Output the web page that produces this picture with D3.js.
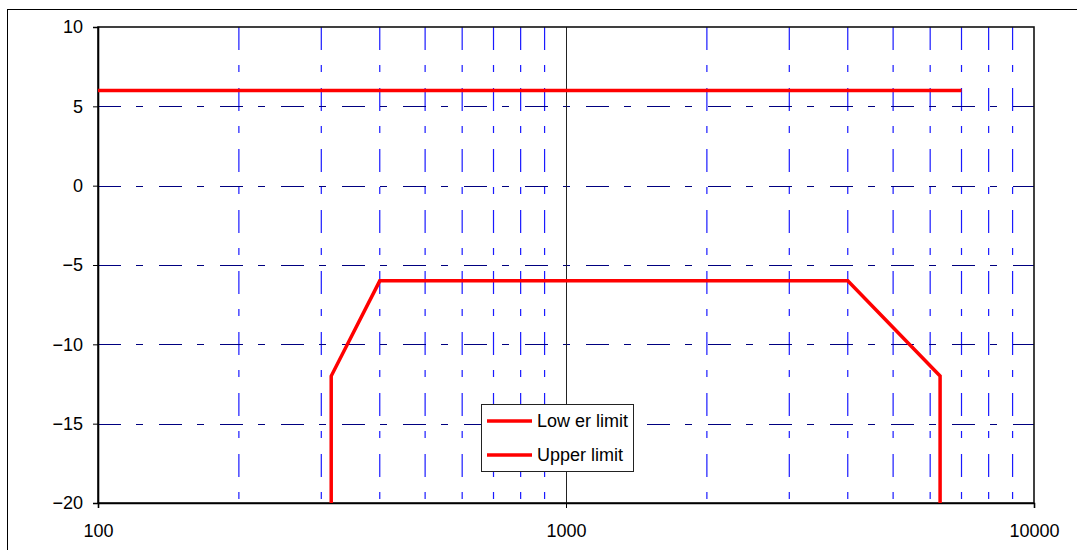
<!DOCTYPE html>
<html>
<head>
<meta charset="utf-8">
<script src="https://cdn.jsdelivr.net/npm/d3@7"></script>
<style>
  html, body { margin: 0; padding: 0; background: #fff; }
  svg { display: block; }
  text { font-family: "Liberation Sans", Arial, sans-serif; }
</style>
</head>
<body>
<svg id="chart" width="1077" height="550"></svg>
<script>
// ---- data ----
const upperX = [100, 7000];
const upperY = [6, 6];
const lowerX = [315, 315, 400, 4000, 6300, 6300];
const lowerY = [-20, -12, -6, -6, -12, -20];
const xTicks = [100, 1000, 10000];
const xMinorGrid = [200, 300, 400, 500, 600, 700, 800, 900, 2000, 3000, 4000, 5000, 6000, 7000, 8000, 9000];
const yTicks = [10, 5, 0, -5, -10, -15, -20];
const yGrid = [5, 0, -5, -10, -15];
const seriesNames = ["Low er limit", "Upper limit"];

// ---- layout ----
const svg = d3.select("#chart");
const L = 98, R = 1034, T = 27, B = 503;
const x = d3.scaleLog().domain([100, 10000]).range([L, R]);
const y = d3.scaleLinear().domain([-20, 10]).range([B, T]);
const dash = "23,15,7,16";

// outer frame
svg.append("rect").attr("x", 7.5).attr("y", 9.5).attr("width", 1200).attr("height", 700)
  .attr("fill", "none").attr("stroke", "#000").attr("stroke-width", 1);

// vertical minor gridlines
svg.append("g").selectAll("line").data(xMinorGrid).join("line")
  .attr("x1", d => x(d)).attr("x2", d => x(d)).attr("y1", T).attr("y2", B)
  .attr("stroke", "#1a1aff").attr("stroke-width", 1.2).attr("stroke-dasharray", dash);

// horizontal gridlines
svg.append("g").selectAll("line").data(yGrid).join("line")
  .attr("x1", L).attr("x2", R).attr("y1", d => Math.round(y(d)) + 0.5).attr("y2", d => Math.round(y(d)) + 0.5)
  .attr("stroke", "#000080").attr("stroke-width", 1).attr("stroke-dasharray", dash);

// major vertical gridline at 1000
svg.append("line").attr("x1", Math.round(x(1000)) + 0.5).attr("x2", Math.round(x(1000)) + 0.5)
  .attr("y1", T).attr("y2", B).attr("stroke", "#222").attr("stroke-width", 1);

// plot border
svg.append("rect").attr("x", L).attr("y", T).attr("width", R - L).attr("height", B - T)
  .attr("fill", "none").attr("stroke", "#111").attr("stroke-width", 1.6);

// axes
const yAxis = svg.append("g").attr("transform", `translate(${L},0)`)
  .call(d3.axisLeft(y).tickValues(yTicks).tickSize(5).tickPadding(10).tickFormat(d3.format("d")));
const xAxis = svg.append("g").attr("transform", `translate(0,${B})`)
  .call(d3.axisBottom(x).tickValues(xTicks).tickSize(5).tickPadding(16.5).tickFormat(d3.format("d")));
[xAxis, yAxis].forEach(g => {
  g.select(".domain").attr("stroke", "#000").attr("stroke-width", 1.6);
  g.selectAll(".tick line").attr("stroke", "#000");
  g.selectAll("text").attr("font-size", 18).attr("fill", "#000")
    .attr("font-family", "'Liberation Sans', Arial, sans-serif");
});

// series
const line = d3.line().x(d => x(d[0])).y(d => y(d[1]));
const lowerData = lowerX.map((v, i) => [v, lowerY[i]]);
const upperData = upperX.map((v, i) => [v, upperY[i]]);
svg.append("path").datum(upperData).attr("d", line).attr("fill", "none")
  .attr("stroke", "#ff0000").attr("stroke-width", 3.5);
svg.append("path").datum(lowerData).attr("d", line).attr("fill", "none")
  .attr("stroke", "#ff0000").attr("stroke-width", 3.5).attr("stroke-linejoin", "miter");

// legend
const lg = svg.append("g");
lg.append("rect").attr("x", 481.5).attr("y", 404.5).attr("width", 152).attr("height", 67)
  .attr("fill", "#fff").attr("stroke", "#222").attr("stroke-width", 1);
seriesNames.forEach((name, i) => {
  const yy = 421 + i * 34;
  lg.append("line").attr("x1", 487).attr("x2", 532).attr("y1", yy).attr("y2", yy)
    .attr("stroke", "#ff0000").attr("stroke-width", 3.5);
  lg.append("text").attr("x", 537).attr("y", yy).attr("dy", "0.35em")
    .attr("font-size", 18).attr("fill", "#000").text(name);
});
</script>
</body>
</html>
